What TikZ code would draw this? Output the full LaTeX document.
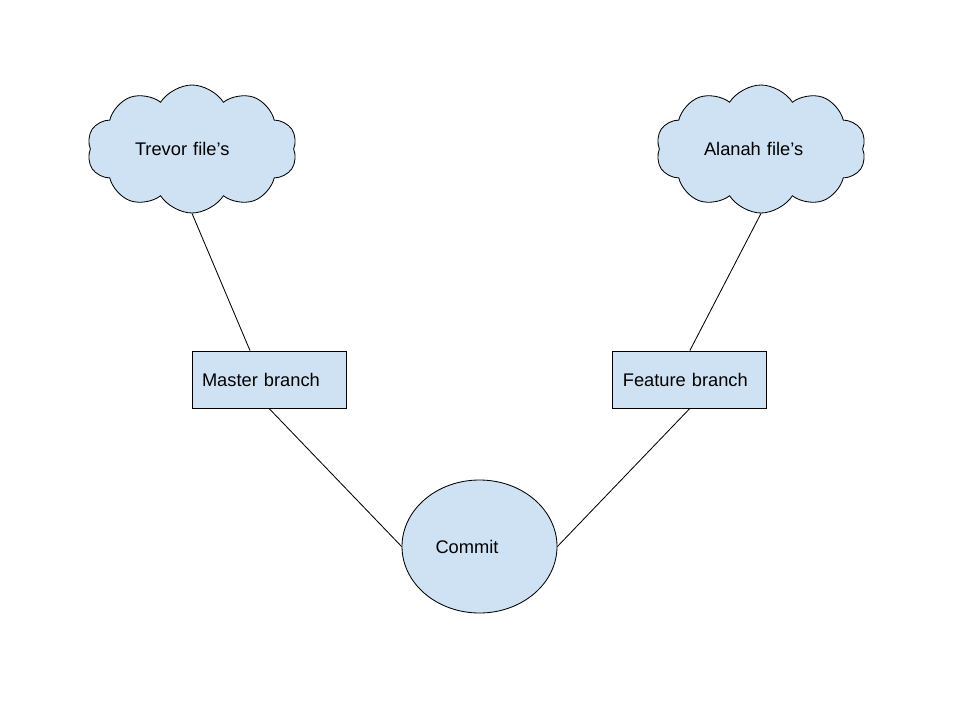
\documentclass[tikz,border=0pt]{standalone}
\usepackage{fontspec}
\setmainfont{Liberation Sans}
\usepackage{tikz}
\usetikzlibrary{positioning, calc, shapes.geometric, shapes.symbols}
\definecolor{paleblue}{HTML}{CFE2F3}

\begin{document}
\begin{tikzpicture}[files/.style={cloud, cloud puffs=10, cloud puff arc=115, cloud ignores aspect, draw, fill=paleblue, line width=0.6pt, minimum width=5.25cm, minimum height=3.2cm, inner sep=0pt, text width=2.85cm, align=left}, branch/.style={rectangle, draw, fill=paleblue, line width=0.6pt, minimum height=1.425cm, inner xsep=0.25cm, text width=3.35cm, align=left}, commitnode/.style={ellipse, draw, fill=paleblue, line width=0.6pt, minimum width=3.875cm, minimum height=3.325cm, inner sep=0pt, text width=2.2cm, align=left}, font=\fontsize{13}{15}\selectfont, node distance=1.5cm]
        \useasboundingbox (0,0) rectangle (24,18);
        \node[branch] (master) at (6.725,8.5125) {Master branch};
        \node[branch, right=6.65cm of master] (feature) {Feature branch};
        \node[commitnode] (commit) at (11.9875,4.3375) {Commit};
        \node[files] (trevor) at (4.8,14.275) {Trevor file’s};
        \node[files] (alanah) at (19.025,14.275) {Alanah file’s};

        \draw[line width=0.6pt] (trevor.south) -- ($(master.north)+(-0.475,0)$);
        \draw[line width=0.6pt] (alanah.south) -- (feature.north);
        \draw[line width=0.6pt] (master.south) -- (commit.west);
        \draw[line width=0.6pt] (feature.south) -- (commit.east);
    \end{tikzpicture}
\end{document}
